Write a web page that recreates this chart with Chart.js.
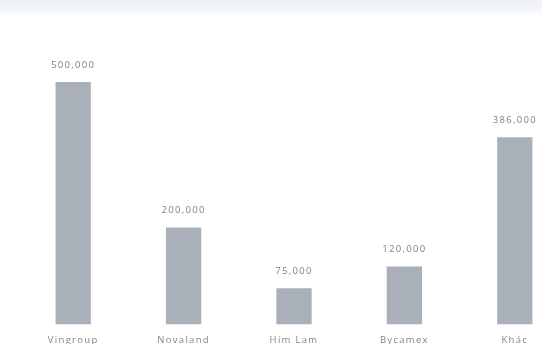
<!DOCTYPE html>
<html>
<head>
<meta charset="utf-8">
<script src="https://cdn.jsdelivr.net/npm/chart.js@4.4.0/dist/chart.umd.min.js"></script>
<style>
  html, body { margin: 0; padding: 0; background: #fff; }
  body { width: 542px; height: 344px; overflow: hidden; position: relative; }
  #band { position: absolute; left: 0; top: 0; width: 542px; height: 15px;
          background: linear-gradient(#edf0f8, #f4f6fb 70%, #fdfdff); }
  #wrap { position: absolute; left: 0; top: 0; width: 570px; height: 356px; }
</style>
</head>
<body>
<div id="band"></div>
<div id="wrap"><canvas id="landChart"></canvas></div>
<script>
const categories = ['Vingroup', 'Novaland', 'Him Lam', 'Bycamex', 'Khác'];
const values = [500000, 200000, 75000, 120000, 386000];

// wide letter spacing like the reference
const spacing = {
  id: 'spacing',
  beforeDraw(chart) { chart.ctx.letterSpacing = '1.3px'; }
};

// value labels above each bar
const barLabels = {
  id: 'barLabels',
  afterDatasetsDraw(chart) {
    const ctx = chart.ctx;
    const meta = chart.getDatasetMeta(0);
    ctx.save();
    ctx.letterSpacing = '1.3px';
    ctx.font = '9.5px "Open Sans"';
    ctx.fillStyle = '#7c8086';
    ctx.textAlign = 'center';
    ctx.textBaseline = 'middle';
    meta.data.forEach((bar, i) => {
      ctx.fillText(values[i].toLocaleString('en-US'), bar.x, bar.y - 17);
    });
    ctx.restore();
  }
};

function createChart() {
  const ctx = document.getElementById('landChart').getContext('2d');
  new Chart(ctx, {
    type: 'bar',
    data: {
      labels: categories,
      datasets: [{
        data: values,
        backgroundColor: '#aab0ba',
        barPercentage: 0.32,
        categoryPercentage: 1
      }]
    },
    options: {
      responsive: false,
      animation: false,
      layout: { padding: { top: 82, left: 18, right: 0, bottom: 0 } },
      plugins: { legend: { display: false }, tooltip: { enabled: false } },
      scales: {
        x: {
          grid: { display: false, drawTicks: false },
          border: { display: false },
          ticks: { color: '#80848a', font: { family: 'Open Sans', size: 9.5 }, padding: 10 }
        },
        y: {
          display: false,
          min: 0,
          max: 500000
        }
      }
    },
    plugins: [spacing, barLabels]
  });
}

document.addEventListener("DOMContentLoaded", () => {
  const c = document.getElementById('landChart');
  c.width = 570; c.height = 356;
  createChart();
});
</script>
</body>
</html>
